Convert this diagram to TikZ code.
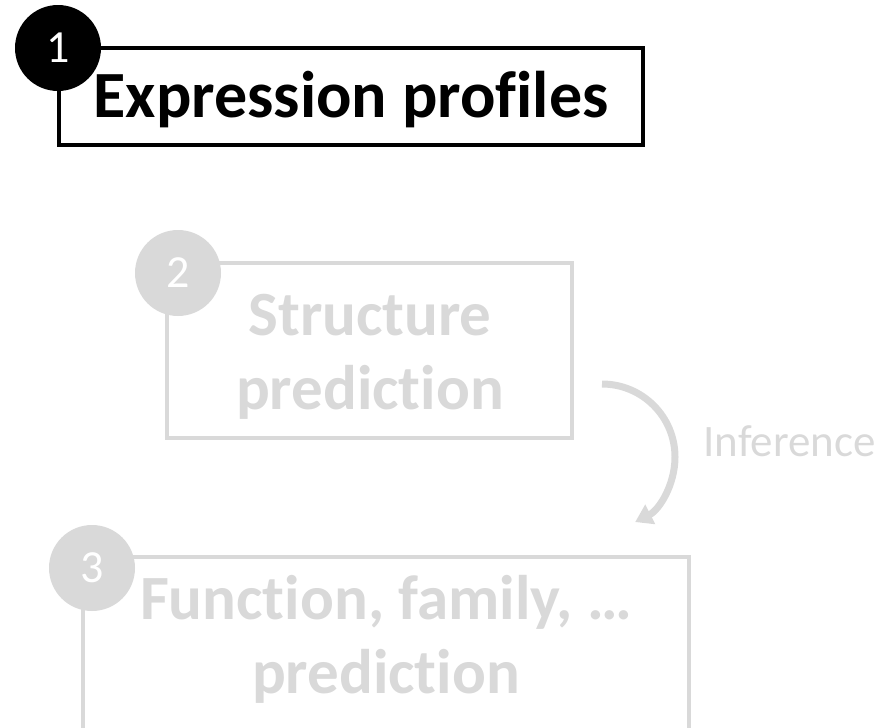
\documentclass[tikz,border=0pt]{standalone}
\usepackage{fontspec}
\setmainfont[Ligatures={NoCommon}]{Carlito}
\usepackage{xcolor}
\usetikzlibrary{shapes,arrows.meta,positioning}
\definecolor{fadegray}{HTML}{D9D9D9}

\begin{document}
\begin{tikzpicture}[x=1pt, y=-1pt, line width=3.5pt, outer sep=0pt,
    bigtext/.style={font=\fontsize{63}{74}\selectfont\bfseries, align=center},
    badge/.style={circle, minimum size=86pt, inner sep=0pt, text=white, font=\fontsize{46}{46}\selectfont}]
    \useasboundingbox (0,0) rectangle (889,728);
    \clip (0,0) rectangle (889,728);

    % boxes
    \node[draw, rectangle, anchor=north west, minimum width=584pt, minimum height=97pt, bigtext, font=\fontsize{66}{74}\selectfont\bfseries, text height=55pt, text depth=14pt] (profiles) at (59,48) {Expression profiles};
    \node[draw=fadegray, rectangle, anchor=north west, minimum width=405pt, minimum height=175pt] (structure) at (167,263) {};
    \node[bigtext, text=fadegray] (structext) at (370,357) {Structure\\prediction};
    \node[draw=fadegray, rectangle, anchor=north west, minimum width=606pt, minimum height=260pt] (function) at (83,557) {};
    \node[bigtext, text=fadegray] (functext) at (386,639) {Function, family, \dots\\prediction};

    % numbered badges
    \node[badge, fill=black] (one) at (58,48) {1};
    \node[badge, fill=fadegray] (two) at (178,273) {2};
    \node[badge, fill=fadegray] (three) at (92,568) {3};

    % inference arrow
    \coordinate (arcstart) at (602,384);
    \draw[fadegray, line width=7pt, -{Triangle[length=17pt, width=21pt]}] (arcstart) arc[start angle=-90, end angle=63, radius=73];
    \node[anchor=west, text=fadegray, font=\fontsize{45}{45}\selectfont] (infer) at (700,441) {Inference};
\end{tikzpicture}
\end{document}
